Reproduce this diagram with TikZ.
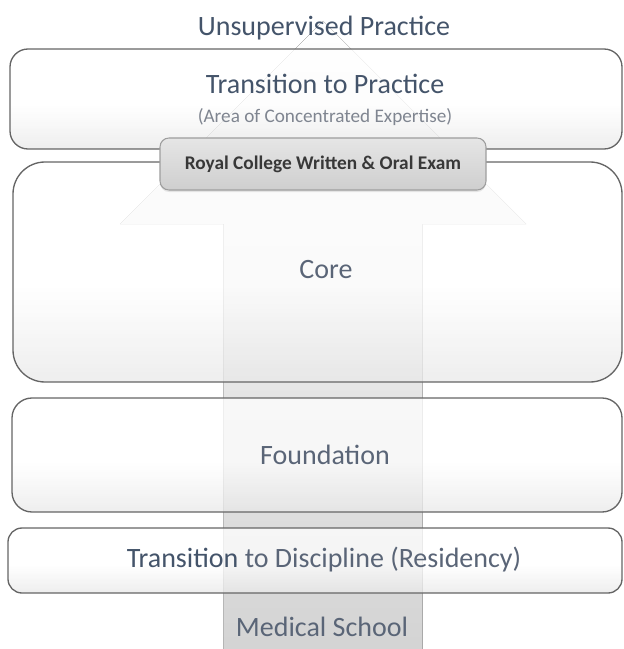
\documentclass[tikz,border=0pt]{standalone}
\usepackage{fontspec}
\setmainfont{Carlito}
\usetikzlibrary{shadows}
\definecolor{slate}{HTML}{44546A}
\definecolor{slatemid}{HTML}{5A6577}
\definecolor{note}{HTML}{7F8590}
\definecolor{edge}{HTML}{656565}
\pgfdeclareverticalshading{stageshade}{100bp}{color(0bp)=(black!9); color(25bp)=(black!9); color(47bp)=(white); color(100bp)=(white)}

\begin{document}
\begin{tikzpicture}[x=0.75pt,y=-0.75pt,
  stage/.style={draw=edge, line width=1pt, shading=stageshade, fill opacity=0.75},
  exambox/.style={draw=black!38, line width=0.8pt, top color=black!10, bottom color=black!19,
    rounded corners=6.75pt, text=black!78, font=\bfseries\fontsize{14.5}{17}\selectfont,
    drop shadow={opacity=0.18, shadow xshift=0pt, shadow yshift=-1.5pt}},
  caption/.style={font=\fontsize{21}{25}\selectfont, align=center}]
  \useasboundingbox (0,0) rectangle (624,649);

  % Arrow
  \fill[top color=white, bottom color=black!17]
    (223.5,649) -- (223.5,224) -- (120,224) -- (323,21) -- (526,224)
    -- (422.5,224) -- (422.5,649) -- cycle;

  % Stages
  \node[stage, rounded corners=13.5pt, minimum width=459pt, minimum height=75pt] (practice) at (316,99) {};
  \node[stage, rounded corners=24pt, minimum width=456.75pt, minimum height=165pt] (core) at (317.5,272) {};
  \node[stage, rounded corners=15pt, minimum width=457.5pt, minimum height=85.5pt] (foundation) at (317,455) {};
  \node[stage, rounded corners=10.5pt, minimum width=460.5pt, minimum height=48.75pt] (discipline) at (315,560.5) {};

  % Stage texts
  \node[caption, text=slate] (practice-text) at (325,100)
    {Transition to Practice\\[-3pt]{\color{note}\fontsize{14.4}{17}\selectfont(Area of Concentrated Expertise)}};
  \node[caption, text=slatemid] (core-text) at (326,270) {Core};
  \node[caption, text=slatemid] (foundation-text) at (325,455) {Foundation};
  \node[caption, text=slatemid] (discipline-text) at (324,560) {{\color{slate}Transition} to Discipline (Residency)};

  % Exam
  \node[exambox, minimum width=244.5pt, minimum height=39pt] (exam) at (323,164) {Royal College Written \& Oral Exam};

  % Ends
  \node[caption, text=slate] (unsupervised) at (324,28) {Unsupervised Practice};
  \node[caption, text=slatemid] (medschool) at (322,627) {Medical School};
\end{tikzpicture}
\end{document}
